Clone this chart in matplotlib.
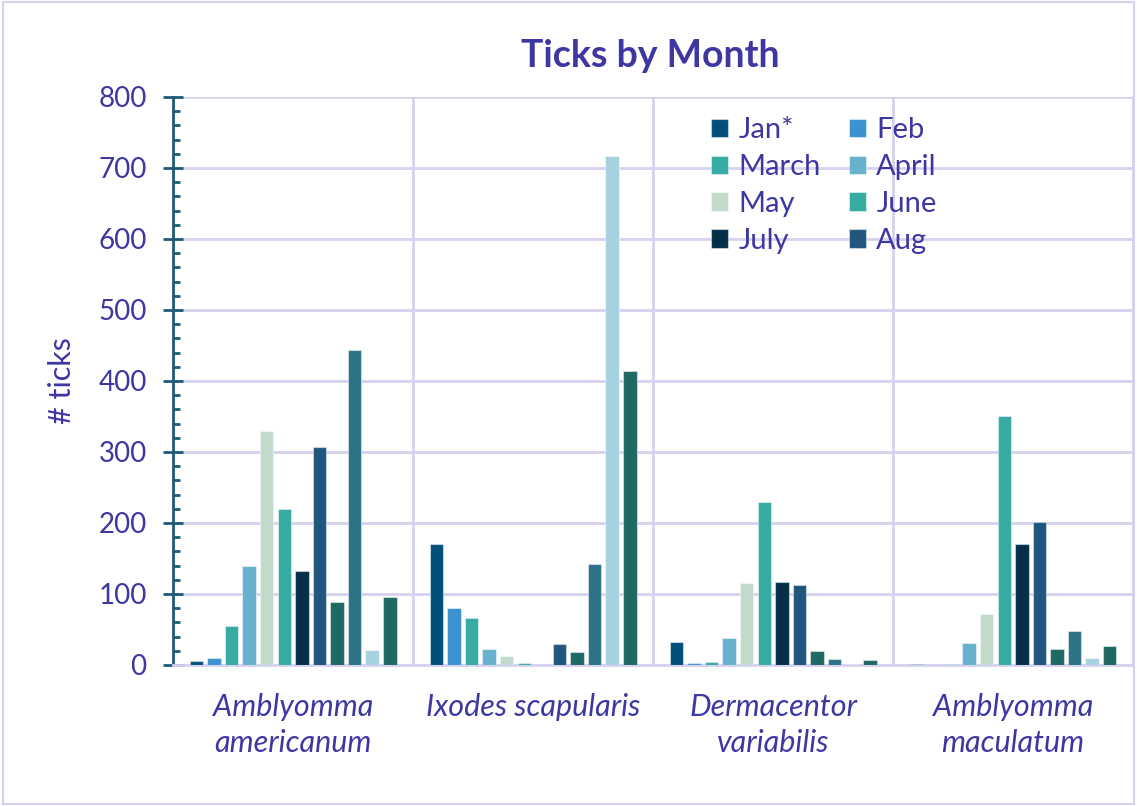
import numpy as np
import matplotlib.pyplot as plt
from matplotlib.ticker import MultipleLocator

# species on the x axis
species = ['Amblyomma\namericanum', 'Ixodes scapularis', 'Dermacentor\nvariabilis', 'Amblyomma\nmaculatum']

# one list per month, values for the 4 species
months = ['Jan*', 'Feb', 'March', 'April', 'May', 'June', 'July', 'Aug', 'Sept', 'Oct', 'Nov', 'Dec']
jan = [6, 170, 33, 2]
feb = [10, 80, 3, 0]
march = [55, 66, 4, 2]
april = [139, 22, 38, 31]
may = [330, 12, 115, 72]
june = [220, 3, 230, 350]
july = [133, 0, 117, 171]
aug = [307, 30, 113, 202]
sept = [88, 18, 20, 22]
octo = [443, 142, 9, 48]
nov = [21, 717, 1, 10]
dec = [96, 414, 7, 27]
series = [jan, feb, march, april, may, june, july, aug, sept, octo, nov, dec]

colors = ['#02507a', '#3a93d0', '#35aba2', '#67b1cc', '#c3d9cc', '#35aba2',
          '#052f48', '#21577e', '#1f6962', '#2e7288', '#a6d2e0', '#1f6962']

txt = '#3d37a2'
grid_col = '#d5d1ef'
axis_col = '#1f5a78'

plt.rcParams['font.family'] = ['Lato', 'DejaVu Sans']

fig = plt.figure(figsize=(11.37, 8.06), dpi=100)
ax = fig.add_axes([0.1522, 0.175, 0.8443, 0.7047])

x = np.arange(len(species))
step = 0.0733
width = 0.056
bars = []
for i, vals in enumerate(series):
    b = ax.bar(x + (i - 5.5) * step, vals, width, color=colors[i],
               edgecolor=(1, 1, 1, 0.45), linewidth=0.8, zorder=3)
    bars.append(b)

ax.set_xlim(-0.5, 3.5)
ax.set_ylim(0, 800)
ax.yaxis.set_major_locator(MultipleLocator(100))
ax.yaxis.set_minor_locator(MultipleLocator(20))
ax.grid(axis='y', color=grid_col, linewidth=2, zorder=0)
for xv in [0.5, 1.5, 2.5]:
    ax.axvline(xv, color=grid_col, linewidth=2, zorder=0)

ax.spines['top'].set_visible(False)
ax.spines['right'].set_color(grid_col)
ax.spines['right'].set_linewidth(2)
ax.spines['bottom'].set_color(grid_col)
ax.spines['bottom'].set_linewidth(2)
ax.spines['left'].set_color(axis_col)
ax.spines['left'].set_linewidth(2)

ax.set_xticks(x)
ax.set_xticklabels(species, fontstyle='italic', fontsize=22, color=txt, linespacing=1.38)
ax.tick_params(axis='x', length=0, pad=20)
ax.tick_params(axis='y', which='major', direction='inout', length=14, width=2,
               color=axis_col, labelsize=20, labelcolor=txt, pad=12)
ax.tick_params(axis='y', which='minor', direction='in', length=5, width=2, color=axis_col)

ax.set_ylabel('# ticks', fontsize=22, color=txt, labelpad=16)
fig.text(0.572, 0.931, 'Ticks by Month', ha='center', va='center',
         fontsize=27, fontweight='bold', color=txt)

# legend shows only Jan..Aug, filled row by row
order = [0, 2, 4, 6, 1, 3, 5, 7]
leg = ax.legend([bars[i] for i in order], [months[i] for i in order],
                ncol=2, loc='upper left', bbox_to_anchor=(0.539, 1.0),
                frameon=False, fontsize=21, labelcolor=txt,
                handlelength=0.6, handleheight=0.6, handletextpad=0.35,
                labelspacing=0.37, columnspacing=0.95, borderpad=0.2)

# thin border round the whole picture
fig.patches.append(plt.Rectangle((0.003, 0.003), 0.994, 0.994, transform=fig.transFigure,
                                 fill=False, edgecolor=grid_col, linewidth=1.5))

plt.savefig('out.png', dpi=100)
